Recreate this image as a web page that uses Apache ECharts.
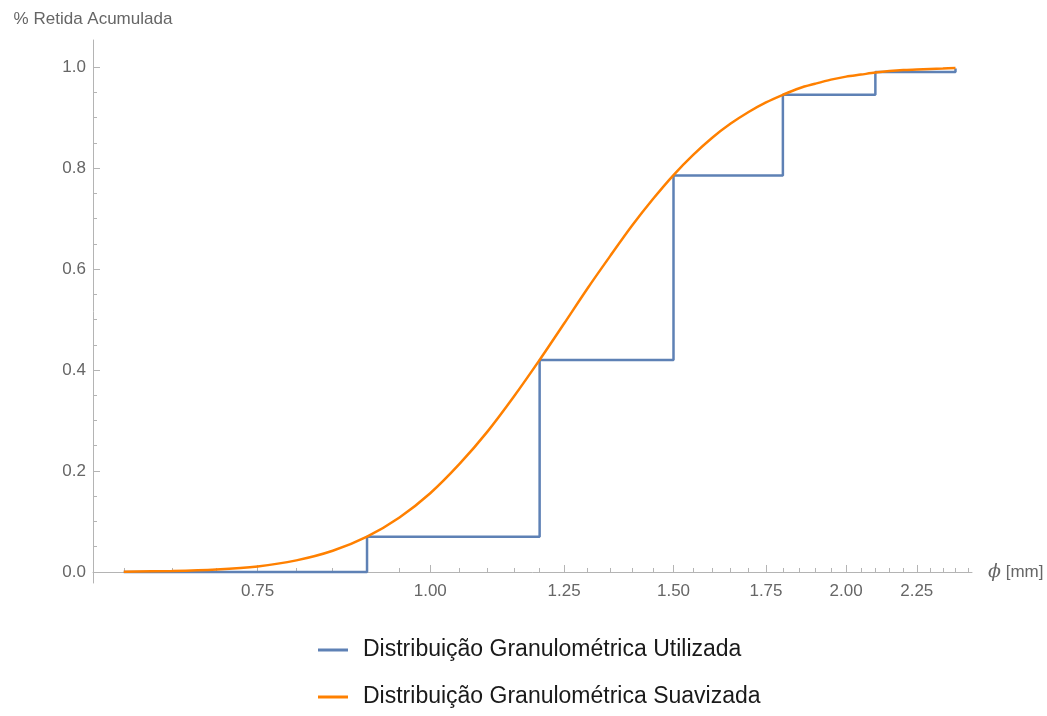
<!DOCTYPE html>
<html>
<head>
<meta charset="utf-8">
<script src="https://cdn.jsdelivr.net/npm/echarts@6/dist/echarts.min.js"></script>
<style>html,body{margin:0;padding:0;background:#fff}#c{width:1047px;height:716px}</style>
</head>
<body>
<div id="c"></div>
<script>
// ---- data ----
const xTickLabels = [0.75, 1.00, 1.25, 1.50, 1.75, 2.00, 2.25];
const xMinorTicks = [0.60, 0.65, 0.70, 0.80, 0.85, 0.90, 0.95, 1.05, 1.10, 1.15, 1.20,
  1.30, 1.35, 1.40, 1.45, 1.55, 1.60, 1.65, 1.70, 1.80, 1.85, 1.90, 1.95,
  2.05, 2.10, 2.15, 2.20, 2.30, 2.35, 2.40, 2.45];
const yTickLabels = [0.0, 0.2, 0.4, 0.6, 0.8, 1.0];
const yMinorTicks = [0.05, 0.10, 0.15, 0.25, 0.30, 0.35, 0.45, 0.50, 0.55, 0.65, 0.70, 0.75,
  0.85, 0.90, 0.95];

const stepX = [0.6, 0.9, 1.2, 1.5, 1.8, 2.1, 2.4];
const stepY = [0.0, 0.07, 0.42, 0.785, 0.945, 0.99, 0.997];

const smoothX = [0.60, 0.65, 0.70, 0.75, 0.80, 0.85, 0.90, 0.95, 1.00, 1.05, 1.10, 1.15,
  1.20, 1.25, 1.30, 1.35, 1.40, 1.45, 1.50, 1.55, 1.60, 1.65, 1.70, 1.75, 1.80, 1.85,
  1.90, 1.95, 2.00, 2.05, 2.10, 2.15, 2.20, 2.25, 2.30, 2.35, 2.40];
const smoothY = [0.0005, 0.002, 0.005, 0.011, 0.023, 0.042, 0.070, 0.108, 0.156, 0.214, 0.278, 0.348,
  0.420, 0.492, 0.562, 0.626, 0.686, 0.739, 0.786, 0.826, 0.860, 0.888, 0.911, 0.930, 0.945, 0.958,
  0.967, 0.975, 0.981, 0.985, 0.989, 0.992, 0.994, 0.995, 0.996, 0.997, 0.998];

const seriesNames = ['Distribuição Granulométrica Utilizada', 'Distribuição Granulométrica Suavizada'];

// ---- chart ----
const L = Math.log;
const xMin = L(0.57), xMax = L(2.467);
const yMin = -0.0218, yMax = 1.0535;
const axisGray = '#b4b4b4';
const labelGray = '#666666';
const font = 'Liberation Sans, Arial, sans-serif';

const chart = echarts.init(document.getElementById('c'));
chart.setOption({
  animation: false,
  backgroundColor: '#ffffff',
  grid: { left: 93, right: 75, top: 40, bottom: 133, containLabel: false },
  xAxis: [{
    type: 'value', min: xMin, max: xMax, position: 'bottom',
    name: '{i|ϕ} [mm]', nameLocation: 'end', nameGap: 16,
    nameTextStyle: { color: labelGray, fontSize: 17, fontFamily: font, verticalAlign: 'middle',
      rich: { i: { fontStyle: 'italic', fontSize: 19, color: labelGray, fontFamily: 'DejaVu Serif, serif' } } },
    axisLine: { show: true, onZero: true, lineStyle: { color: axisGray, width: 1 } },
    axisTick: { show: true, inside: true, length: 7, lineStyle: { color: axisGray },
      customValues: xTickLabels.map(L) },
    axisLabel: { show: true, color: labelGray, fontSize: 17, fontFamily: font, margin: 0,
      customValues: xTickLabels.map(L),
      formatter: v => Math.exp(v).toFixed(2) },
    splitLine: { show: false }
  }, {
    type: 'value', min: xMin, max: xMax, position: 'bottom',
    axisLine: { show: false, onZero: true },
    axisTick: { show: true, inside: true, length: 4, lineStyle: { color: axisGray },
      customValues: xMinorTicks.map(L) },
    axisLabel: { show: false },
    splitLine: { show: false }
  }],
  yAxis: [{
    type: 'value', min: yMin, max: yMax, position: 'left',
    name: '% Retida Acumulada', nameLocation: 'end', nameGap: 12,
    nameTextStyle: { color: labelGray, fontSize: 17, fontFamily: font },
    axisLine: { show: true, onZero: false, lineStyle: { color: axisGray, width: 1 } },
    axisTick: { show: true, inside: true, length: 7, lineStyle: { color: axisGray },
      customValues: yTickLabels },
    axisLabel: { show: true, color: labelGray, fontSize: 17, fontFamily: font, margin: 7,
      customValues: yTickLabels, formatter: v => v.toFixed(1) },
    splitLine: { show: false }
  }, {
    type: 'value', min: yMin, max: yMax, position: 'left', offset: 0,
    axisLine: { show: false, onZero: false },
    axisTick: { show: true, inside: true, length: 4, lineStyle: { color: axisGray },
      customValues: yMinorTicks },
    axisLabel: { show: false },
    splitLine: { show: false }
  }],
  legend: {
    orient: 'vertical', left: 313, top: 633, itemGap: 23,
    itemWidth: 30, itemHeight: 3, icon: 'rect',
    textStyle: { color: '#1a1a1a', fontSize: 23, fontFamily: font, padding: [0, 0, 0, 10], lineHeight: 24 },
    data: seriesNames
  },
  series: [{
    name: seriesNames[0], type: 'line', step: 'end', symbol: 'none',
    xAxisIndex: 0, yAxisIndex: 0,
    color: '#5E81B5',
    lineStyle: { color: '#5E81B5', width: 2.5 },
    data: stepX.map((x, i) => [L(x), stepY[i]])
  }, {
    name: seriesNames[1], type: 'line', smooth: 0.3, symbol: 'none',
    xAxisIndex: 0, yAxisIndex: 0,
    color: '#FF8000',
    lineStyle: { color: '#FF8000', width: 2.5 },
    data: smoothX.map((x, i) => [L(x), smoothY[i]])
  }]
});
</script>
</body>
</html>
